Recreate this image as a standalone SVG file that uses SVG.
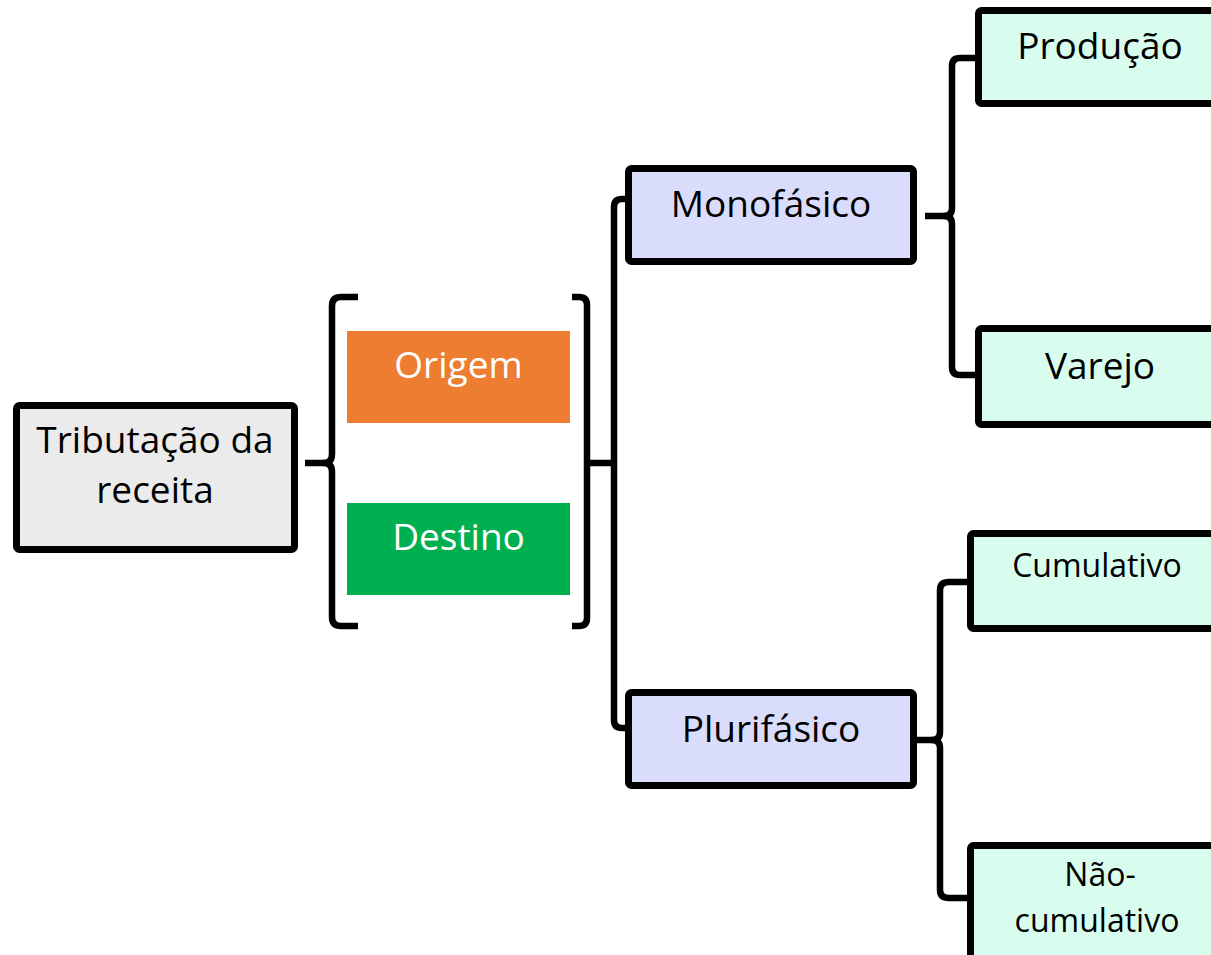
<svg xmlns="http://www.w3.org/2000/svg" width="1211" height="955" viewBox="0 0 1211 955">
<style>
  .box { stroke: #000; stroke-width: 7; stroke-linejoin: round; }
  .grey { fill: #EBEBEB; }
  .lav { fill: #DADCFC; }
  .mint { fill: #D8FCEE; }
  .t { font-family: "Open Sans", "Noto Sans", sans-serif; fill: #000; text-anchor: middle; }
  .big { font-size: 37px; }
  .small { font-size: 32px; }
  .white { fill: #FFFFFF; }
  .conn { fill: none; stroke: #000; stroke-width: 6.5; stroke-linecap: butt; stroke-linejoin: round; }
</style>
<rect width="1211" height="955" fill="#FFFFFF"/>

<g id="connectors">
  <path class="conn" d="M358,297 H341 Q332,297 332,306 V454 Q332,463 324,463 Q332,463 332,472 V617 Q332,626 341,626 H358"/>
  <path class="conn" d="M305,463 H326"/>
  <path class="conn" d="M572,297 H579 Q587,297 587,305 V618 Q587,626 579,626 H572"/>
  <path class="conn" d="M587,463 H614"/>
  <path class="conn" d="M629,199 H622 Q614,199 614,207 V720 Q614,728 622,728 H629"/>
  <path class="conn" d="M978,58 H960 Q952,58 952,66 V208 Q952,216 944,216 Q952,216 952,224 V367 Q952,375 960,375 H978"/>
  <path class="conn" d="M925,216 H946"/>
  <path class="conn" d="M970,582 H949 Q940,582 940,590 V732 Q940,740 932,740 Q940,740 940,748 V890 Q940,898 949,898 H970"/>
  <path class="conn" d="M915,740 H934"/>
</g>

<g id="node-tributacao">
  <rect class="box grey" x="16.5" y="405.5" width="278" height="144" rx="3"/>
  <text class="t big" x="155" y="453">Tributação da</text>
  <text class="t big" x="155" y="503">receita</text>
</g>

<g id="node-origem">
  <rect x="347" y="331" width="223" height="92" fill="#ED7D31"/>
  <text class="t big white" x="458.5" y="378">Origem</text>
</g>

<g id="node-destino">
  <rect x="347" y="503" width="223" height="92" fill="#00B050"/>
  <text class="t big white" x="458.5" y="550">Destino</text>
</g>

<g id="node-monofasico">
  <rect class="box lav" x="628.5" y="168.5" width="285" height="93" rx="3"/>
  <text class="t big" x="771" y="217">Monofásico</text>
</g>

<g id="node-plurifasico">
  <rect class="box lav" x="628.5" y="692.5" width="285" height="93" rx="3"/>
  <text class="t big" x="771" y="742">Plurifásico</text>
</g>

<g id="node-producao">
  <rect class="box mint" x="978.5" y="10.5" width="260" height="93" rx="3"/>
  <text class="t big" x="1100" y="59">Produção</text>
</g>

<g id="node-varejo">
  <rect class="box mint" x="978.5" y="328.5" width="260" height="96" rx="3"/>
  <text class="t big" x="1100" y="379">Varejo</text>
</g>

<g id="node-cumulativo">
  <rect class="box mint" x="970.5" y="533.5" width="260" height="95" rx="3"/>
  <text class="t small" x="1097" y="577">Cumulativo</text>
</g>

<g id="node-nao-cumulativo">
  <rect class="box mint" x="970.5" y="845.5" width="260" height="130" rx="3"/>
  <text class="t small" x="1100" y="886">Não-</text>
  <text class="t small" x="1097" y="932">cumulativo</text>
</g>
</svg>
